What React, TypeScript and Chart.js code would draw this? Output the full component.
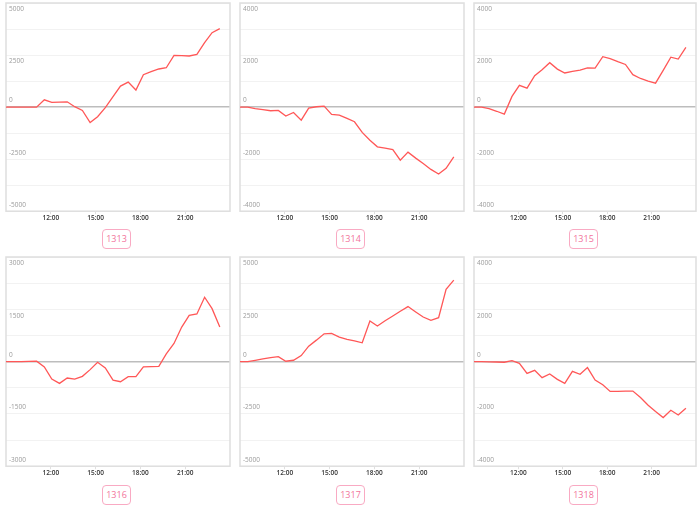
import React, { useEffect, useRef } from "react";
import { Chart, registerables } from "chart.js";

Chart.register(...registerables);

// ---- data ----
const TIMES = [
  "09:00", "09:31", "10:01", "10:32", "11:03", "11:34", "12:04", "12:35", "13:06", "13:36",
  "14:07", "14:38", "15:08", "15:39", "16:10", "16:40", "17:11", "17:42", "18:12", "18:43",
  "19:14", "19:44", "20:15", "20:46", "21:16", "21:47", "22:18", "22:48", "23:19",
];
const X_RANGE = ["09:00", "24:00"];
const X_TICKS = ["12:00", "15:00", "18:00", "21:00"];
const CODES = ["1313", "1314", "1315", "1316", "1317", "1318"];
const Y_LIMITS = [5000, 4000, 4000, 3000, 5000, 4000];

const S1313 = [0, 0, 0, 0, 0, 350, 225, 240, 255, 20, -160, -740, -465, -30, 500, 1010, 1200, 820, 1555, 1700, 1830, 1890, 2485, 2470, 2455, 2533, 3094, 3575, 3767];
const S1314 = [0, 0, -60, -100, -140, -128, -346, -205, -500, -38, 13, 38, -282, -308, -436, -564, -974, -1270, -1525, -1577, -1630, -2038, -1730, -1960, -2164, -2395, -2570, -2350, -1910];
const S1315 = [0, 0, -60, -160, -270, 410, 835, 730, 1205, 1435, 1705, 1460, 1310, 1370, 1420, 1510, 1500, 1935, 1860, 1745, 1640, 1245, 1100, 1000, 920, 1410, 1920, 1845, 2295];
const S1316 = [0, 0, 0, 5, 10, -154, -500, -625, -470, -500, -423, -230, -20, -183, -530, -577, -433, -433, -154, -144, -135, 221, 519, 990, 1327, 1365, 1846, 1519, 990];
const S1317 = [0, 0, 60, 130, 192, 240, 16, 64, 289, 737, 1026, 1330, 1347, 1170, 1058, 994, 898, 1940, 1700, 1955, 2180, 2405, 2630, 2375, 2130, 1970, 2100, 3460, 3895];
const S1318 = [0, 0, -10, -15, -25, 40, -65, -450, -333, -615, -475, -680, -833, -372, -487, -230, -705, -885, -1140, -1140, -1128, -1128, -1370, -1670, -1910, -2140, -1860, -2040, -1780];

const SERIES = [S1313, S1314, S1315, S1316, S1317, S1318];

const toHours = (t: string) => {
  const [h, m] = t.split(":").map(Number);
  return h + m / 60;
};

const FONT = "'Open Sans', 'Noto Sans', sans-serif";

const framePlugin = {
  id: "frame",
  beforeDatasetsDraw(chart: any) {
    const { ctx, chartArea } = chart;
    ctx.save();
    ctx.strokeStyle = "#dedede";
    ctx.lineWidth = 1.5;
    ctx.strokeRect(
      chartArea.left,
      chartArea.top,
      chartArea.right - chartArea.left,
      chartArea.bottom - chartArea.top
    );
    ctx.restore();
  },
};

const COL_LEFT = [0, 234, 468];
const COL_WIDTH = [233, 233, 231];
const ROW_TOP = [0, 254];
const ROW_HEIGHT = [223, 224];
const BOX_TOP = [229, 485];

function Panel({ index }: { index: number }) {
  const ref = useRef<HTMLCanvasElement>(null);
  const col = index % 3;
  const row = Math.floor(index / 3);
  const limit = Y_LIMITS[index];
  const values = SERIES[index];

  useEffect(() => {
    if (!ref.current) return;
    const chart = new Chart(ref.current, {
      type: "line",
      data: {
        datasets: [
          {
            data: TIMES.map((t, i) => ({ x: toHours(t), y: values[i] })),
            borderColor: "#ff5757",
            borderWidth: 1.3,
            pointRadius: 0,
            tension: 0,
            fill: false,
          },
        ],
      },
      options: {
        animation: false,
        responsive: false,
        layout: { padding: { left: 0, right: 3, top: 3, bottom: 1 } },
        plugins: { legend: { display: false }, tooltip: { enabled: false } },
        scales: {
          x: {
            type: "linear",
            min: toHours(X_RANGE[0]),
            max: toHours(X_RANGE[1]),
            afterBuildTicks: (s: any) => {
              s.ticks = X_TICKS.map((l) => ({ value: toHours(l) }));
            },
            afterFit: (s: any) => {
              s.paddingLeft = 0;
              s.paddingRight = 0;
            },
            ticks: {
              autoSkip: false,
              maxRotation: 0,
              padding: 0,
              color: "#333",
              font: { family: FONT, size: 6.5, weight: "600" },
              callback: (v: any) => X_TICKS.find((l) => toHours(l) === v) ?? "",
            },
            grid: { drawOnChartArea: false, tickLength: 3, color: "#e0e0e0" },
            border: { display: false },
          },
          y: {
            min: -limit,
            max: limit,
            afterFit: (s: any) => {
              s.paddingTop = 0;
              s.paddingBottom = 0;
            },
            ticks: {
              stepSize: limit / 4,
              autoSkip: false,
              mirror: true,
              padding: 3,
              color: "#9a9a9a",
              font: { family: FONT, size: 6.5, lineHeight: 2 },
              callback: (v: any) => {
                const n = Number(v);
                if (n % (limit / 2) !== 0) return "";
                return n > 0 ? ["", String(n)] : [String(n), ""];
              },
            },
            grid: {
              drawTicks: false,
              color: (c: any) => (c.tick && c.tick.value === 0 ? "#bdbdbd" : "#f2f2f2"),
              lineWidth: (c: any) => (c.tick && c.tick.value === 0 ? 1.5 : 1),
            },
            border: { display: false },
          },
        },
      },
      plugins: [framePlugin],
    } as any);
    return () => chart.destroy();
  }, []);

  const left = COL_LEFT[col];
  const width = COL_WIDTH[col];
  return (
    <>
      <canvas
        ref={ref}
        width={width}
        height={ROW_HEIGHT[row]}
        style={{ position: "absolute", left, top: ROW_TOP[row], width, height: ROW_HEIGHT[row] }}
      />
      <div
        style={{
          position: "absolute",
          left: left + width / 2 - 14.5,
          top: BOX_TOP[row],
          width: 29,
          height: 20,
          boxSizing: "border-box",
          border: "1.5px solid #f9aac3",
          borderRadius: 4,
          color: "#f2739b",
          fontFamily: FONT,
          fontSize: 9,
          lineHeight: "17px",
          textAlign: "center",
        }}
      >
        {CODES[index]}
      </div>
    </>
  );
}

export default function App() {
  useEffect(() => {
    document.body.style.margin = "0";
  }, []);
  return (
    <div style={{ position: "relative", width: 700, height: 509, background: "#fff", overflow: "hidden" }}>
      {CODES.map((c, i) => (
        <Panel key={c} index={i} />
      ))}
    </div>
  );
}
